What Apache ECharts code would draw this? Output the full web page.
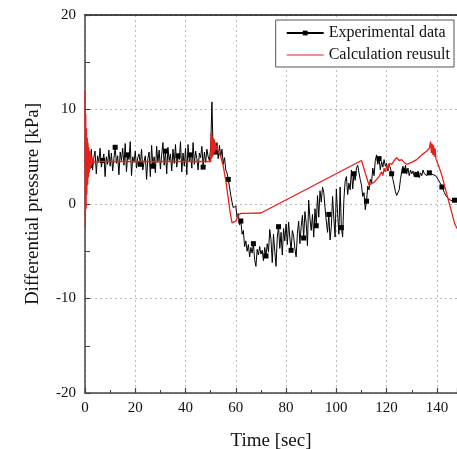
<!DOCTYPE html>
<html>
<head>
<meta charset="utf-8">
<script src="https://cdn.jsdelivr.net/npm/echarts@6/dist/echarts.min.js"></script>
<style>html,body{margin:0;padding:0;background:#fff}#c{width:457px;height:449px}</style>
</head>
<body>
<div id="c"></div>
<script>
// ---- data ----
const seriesNames = ['Experimental data', 'Calculation reusult'];
const xTicks = [0, 20, 40, 60, 80, 100, 120, 140];
const yTicks = [-20, -10, 0, 10, 20];
// Experimental data: sampled every 0.5 s starting at 0 s
const expStart = 0;
const expStep = 0.5;
const expValues = [
 4.5, 5.2, 3.8, 5.5, 4.1, 5.8, 3.6, 4.9, 5.6, 3.2, 5.1, 4.4, 5.9, 3.9, 4.6, 5.3, 2.9, 5.0, 4.2, 5.7,
 4.0, 5.4, 3.5, 4.8, 6.0, 4.3, 5.1, 3.1, 5.5, 4.6,
 5.9, 4.1, 6.4, 3.4, 5.2, 4.7, 6.6, 3.0, 5.0, 4.4,
 5.6, 3.8, 4.9, 5.3, 4.2, 5.8, 3.6, 4.5, 5.1, 2.6,
 4.8, 5.5, 2.9, 6.2, 4.0, 5.0, 3.3, 6.1, 4.4, 5.7,
 3.7, 5.2, 6.5, 4.1, 5.6, 3.2, 6.0, 4.6, 5.3, 3.5,
 5.8, 4.3, 6.3, 3.9, 5.1, 4.7, 6.6, 3.4, 5.4, 4.0,
 5.9, 3.1, 6.3, 4.5, 5.2, 3.8, 6.5, 4.2, 5.6, 4.8,
 3.6, 5.4, 4.9, 6.1, 3.9, 5.5, 4.4, 5.8, 5.0, 4.6,
 6.0, 10.8, 5.2, 6.8, 5.5, 6.5, 4.8, 6.2, 5.0, 5.8,
 4.2, 4.9, 3.6, 3.3, 2.6, 1.8, 0.9, 0.2, -0.4, -0.6,
 -0.2, -1.4, -1.0, -2.2, -1.8, -3.2, -2.8, -4.5, -3.9, -5.0,
 -4.3, -5.6, -4.6, -5.2, -4.2, -5.9, -6.6, -4.8, -5.4, -4.5,
 -5.3, -4.9, -6.0, -4.6, -5.5, -4.2, -5.1, -2.7, -3.8, -6.2,
 -3.2, -5.0, -6.6, -3.5, -2.4, -4.7, -3.0, -5.4, -2.6, -3.9,
 -2.1, -4.3, -1.9, -3.6, -4.9, -2.8, -3.4, -4.7, -5.6, -3.1,
 -1.8, -4.2, -2.4, -1.2, -3.6, -0.8, -2.0, -4.4, 0.4, -1.6,
 -2.8, -1.1, -3.5, -0.5, -2.3, 0.9, -1.4, 1.4, 0.2, 1.8,
 1.2, -0.4, -1.8, -3.0, -1.1, -3.8, -2.4, 0.8, -1.5, -3.5,
 1.6, -1.0, -3.2, 1.8, -2.5, -3.5, 0.5, 2.4, 2.9, 1.0,
 2.2, 1.5, 3.6, 1.6, 3.2, 2.5, 3.8, 4.1, 3.3, 2.6,
 2.0, 0.8, 1.2, -0.6, 0.3, 1.9, 1.5, 2.6, 2.2, 3.8,
 3.0, 4.6, 5.2, 4.2, 4.8, 3.6, 4.5, 3.9, 4.7, 4.0,
 4.3, 3.5, 4.2, 3.8, 3.2, 2.6, 2.0, 1.3, 0.9, 0.7,
 1.5, 2.6, 3.4, 4.0, 3.5, 4.1, 3.2, 3.8, 3.0, 3.6,
 3.2, 3.5, 2.9, 3.4, 3.1, 3.5, 2.8, 3.3, 3.0, 3.6,
 3.2, 3.4, 3.0, 3.5, 3.3, 3.2, 3.4, 3.1, 3.2, 3.0,
 2.8, 2.6, 2.4, 2.1, 1.8, 1.5, 1.2, 0.9, 0.7, 0.6,
 0.5, 0.4, 0.3, 0.3, 0.4, 0.3, 0.3
];
// Calculation result: [time, value]
const calcTime = [
 0, 0.15, 0.3, 0.45, 0.6, 0.75, 0.9, 1.05, 1.2, 1.35, 1.5, 1.7, 1.9, 2.1, 2.3, 2.5, 2.7, 3.0, 3.3, 3.6, 4, 5,
 50, 50.2, 50.4, 50.6, 50.8, 51.0, 51.2, 51.4, 51.6, 51.8, 52.0, 52.3, 52.6, 53, 54, 55, 56, 57, 57.8, 58.5, 59.2, 60, 61, 62, 64, 70,
 110, 113, 115, 117, 118, 118.5, 119, 119.5, 120, 120.5, 121, 122, 123, 124, 125, 126, 127, 128, 129, 130, 132, 134, 136, 137,
 137.5, 137.8, 138.1, 138.4, 138.7, 139, 139.3, 139.6, 140, 141, 142, 143, 144, 145, 146, 147, 148
];
const calcValues = [
 12, -2.5, 9.5, -0.5, 8, 1, 7, 2, 6.5, 2.8, 6, 3.3, 5.6, 3.7, 5.3, 4.0, 5.0, 4.2, 4.8, 4.4, 4.6, 4.5,
 4.5, 7.5, 4.8, 7.2, 5.0, 7.0, 5.3, 6.8, 5.5, 6.5, 5.7, 6.2, 5.8, 5.7, 5.0, 4.0, 2.5, 0.6, -1.0, -2.0, -2.2, -1.8, -1.2, -1.0, -1.0, -0.95,
 4.6, 2.0, 2.3, 2.9, 3.4, 3.0, 3.8, 3.4, 4.0, 3.7, 4.3, 4.2, 4.6, 4.9, 4.6, 4.7, 4.4, 4.2, 4.3, 4.4, 4.7, 5.2, 5.6, 5.9,
 6.6, 5.4, 6.4, 5.2, 6.2, 5.0, 5.9, 4.8, 5.0, 3.8, 3.0, 2.0, 1.0, 0.0, -1.0, -2.0, -2.6
];

// ---- build ----
const expData = expValues.map((v, i) => [expStart + i * expStep, v]);
const calcData = calcTime.map((t, i) => [t, calcValues[i]]);

const font = 'Liberation Serif, Times New Roman, serif';
const chart = echarts.init(document.getElementById('c'), null, {renderer: 'canvas'});
chart.setOption({
  animation: false,
  backgroundColor: '#fff',
  textStyle: {fontFamily: font},
  grid: {left: 85, top: 15, right: 0, bottom: 56, containLabel: false, outerBoundsMode: 'none'},
  legend: {
    right: 3, top: 20,
    orient: 'vertical',
    itemWidth: 37, itemHeight: 6, itemGap: 6,
    padding: [5, 4, 4, 10],
    borderColor: '#555', borderWidth: 1, borderRadius: 0,
    backgroundColor: '#fff',
    textStyle: {fontFamily: font, fontSize: 16, color: '#111'},
    data: [
      {name: seriesNames[0]},
      {name: seriesNames[1], icon: 'path://M0,2.4H37V3.6H0Z', itemStyle: {color: '#e8201c'}}
    ]
  },
  xAxis: [{
    type: 'value', min: 0, max: 148, interval: 20,
    name: 'Time [sec]', nameLocation: 'middle', nameGap: 39,
    nameTextStyle: {fontFamily: font, fontSize: 19, color: '#111'},
    axisLine: {onZero: false, lineStyle: {color: '#444', width: 1.5}},
    axisTick: {inside: true, length: 5, lineStyle: {color: '#444', width: 1.2}},
    minorTick: {show: true, splitNumber: 2, length: 3, lineStyle: {color: '#444', width: 1}},
    axisLabel: {fontFamily: font, fontSize: 15, color: '#111', margin: 8, customValues: xTicks},
    splitLine: {show: true, lineStyle: {color: '#bbb', type: [2, 3], width: 1}}
  }, {
    type: 'value', position: 'top', min: 0, max: 148,
    axisLine: {show: true, onZero: false, lineStyle: {color: '#111', width: 1.5}},
    axisTick: {show: false}, axisLabel: {show: false}, splitLine: {show: false}
  }],
  yAxis: {
    type: 'value', min: -20, max: 20, interval: 10,
    name: 'Differential pressure [kPa]', nameLocation: 'middle', nameGap: 42,
    nameTextStyle: {fontFamily: font, fontSize: 19, color: '#111'},
    axisLine: {show: true, onZero: false, lineStyle: {color: '#444', width: 1.5}},
    axisTick: {show: true, inside: true, length: 5, lineStyle: {color: '#444', width: 1.2}},
    minorTick: {show: true, splitNumber: 2, length: 5, lineStyle: {color: '#444', width: 1}},
    axisLabel: {fontFamily: font, fontSize: 15, color: '#111', margin: 9, customValues: yTicks},
    splitLine: {show: true, lineStyle: {color: '#bbb', type: [2, 3], width: 1}}
  },
  series: [{
    name: seriesNames[0], type: 'line', data: expData,
    symbol: 'rect',
    symbolSize: (v, p) => (p.dataIndex % 10 === 4 ? 5 : 0),
    showSymbol: true,
    itemStyle: {color: '#000'},
    lineStyle: {color: '#000', width: 1},
    z: 2
  }, {
    name: seriesNames[1], type: 'line', data: calcData,
    symbol: 'none', showSymbol: false,
    itemStyle: {color: '#e8201c'},
    lineStyle: {color: '#e8201c', width: 1.3},
    z: 3
  }]
});
</script>
</body>
</html>
